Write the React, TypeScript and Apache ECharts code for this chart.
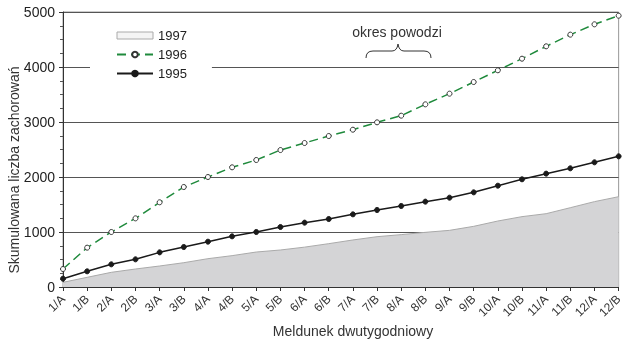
import React, { useEffect, useRef } from "react";
import * as echarts from "echarts";

// Biweekly report labels (month / half)
const categories = [
  "1/A", "1/B", "2/A", "2/B", "3/A", "3/B", "4/A", "4/B", "5/A", "5/B", "6/A", "6/B",
  "7/A", "7/B", "8/A", "8/B", "9/A", "9/B", "10/A", "10/B", "11/A", "11/B", "12/A", "12/B",
];

// Cumulative case counts per year
const cases1997 = [
  85, 176, 267, 327, 382, 442, 515, 570, 636, 673, 725, 788,
  855, 915, 952, 994, 1030, 1103, 1200, 1279, 1333, 1442, 1552, 1642,
];
const cases1996 = [
  327, 715, 1000, 1248, 1540, 1818, 2000, 2176, 2309, 2490, 2618, 2745,
  2860, 2994, 3115, 3321, 3515, 3727, 3940, 4151, 4376, 4588, 4776, 4933,
];
const cases1995 = [
  151, 285, 412, 503, 630, 727, 824, 921, 1000, 1091, 1170, 1236,
  1321, 1400, 1473, 1552, 1624, 1721, 1842, 1958, 2061, 2158, 2267, 2376,
];

const yTicks = { min: 0, max: 5000, interval: 1000 };

const FONT = "Liberation Sans, Arial, sans-serif";

// Curly brace over the flood period
const braceD =
  "M366,58 Q366,51 373,51 L392,51 Q397,51 398,44 Q399,51 404,51 L424,51 Q431,51 431,58";
echarts.graphic.registerShape("brace", echarts.graphic.extendPath(braceD, {}));

export default function App() {
  const ref = useRef<HTMLDivElement>(null);

  useEffect(() => {
    if (!ref.current) return;
    const chart = echarts.init(ref.current, null, { renderer: "svg" });
    chart.setOption({
      animation: false,
      textStyle: { fontFamily: FONT },
      grid: {
        left: 63,
        right: 3,
        top: 12,
        bottom: 53,
        show: true,
        borderColor: "#999",
        borderWidth: 1,
        backgroundColor: "transparent",
      },
      legend: {
        orient: "vertical",
        left: 90,
        top: 26,
        padding: [3, 25, 3, 26],
        backgroundColor: "#fff",
        itemWidth: 36,
        itemHeight: 7,
        itemGap: 6,
        textStyle: { fontSize: 13, color: "#222", fontFamily: FONT },
        data: [
          {
            name: "1997",
            icon: "rect",
            itemStyle: { color: "#f4f4f4", borderColor: "#aaa", borderWidth: 1 },
          },
          { name: "1996" },
          { name: "1995" },
        ],
      },
      xAxis: {
        type: "category",
        data: categories,
        boundaryGap: false,
        axisLine: { lineStyle: { color: "#333", width: 1 } },
        axisTick: { show: true, length: 4, lineStyle: { color: "#333" } },
        axisLabel: {
          rotate: 45,
          fontSize: 12,
          color: "#333",
          margin: 10,
          interval: 0,
          fontFamily: FONT,
        },
        splitLine: { show: false },
      },
      yAxis: {
        type: "value",
        min: yTicks.min,
        max: yTicks.max,
        interval: yTicks.interval,
        axisLine: { show: true, lineStyle: { color: "#333", width: 1 } },
        axisTick: { show: true, length: 4, lineStyle: { color: "#333" } },
        minorTick: { show: true, splitNumber: 4, length: 3, lineStyle: { color: "#555" } },
        axisLabel: {
          fontSize: 14,
          color: "#222",
          margin: 8,
          fontFamily: FONT,
          formatter: (v: number) => String(v),
        },
        splitLine: { show: true, lineStyle: { color: "#555", width: 1 } },
      },
      series: [
        {
          name: "1997",
          type: "line",
          data: cases1997,
          symbol: "none",
          lineStyle: { color: "#aaa", width: 1 },
          itemStyle: { color: "#f4f4f4", borderColor: "#aaa", borderWidth: 1 },
          areaStyle: { color: "#d4d4d6", opacity: 1 },
          z: 1,
        },
        {
          name: "1996",
          type: "line",
          data: cases1996,
          symbol: "circle",
          symbolSize: 5,
          lineStyle: { color: "#1f8a3c", width: 1.5, type: [9, 5] },
          itemStyle: { color: "#fff", borderColor: "#333", borderWidth: 1 },
          z: 3,
        },
        {
          name: "1995",
          type: "line",
          data: cases1995,
          symbol: "circle",
          symbolSize: 5,
          lineStyle: { color: "#1a1a1a", width: 1.5 },
          itemStyle: { color: "#1a1a1a", borderColor: "#1a1a1a", borderWidth: 1 },
          z: 3,
        },
      ],
      graphic: [
        {
          type: "text",
          x: 14,
          y: 170,
          rotation: Math.PI / 2,
          style: {
            text: "Skumulowana liczba zachorowań",
            fontSize: 14,
            fill: "#333",
            fontFamily: FONT,
            align: "center",
            verticalAlign: "middle",
          },
        },
        {
          type: "text",
          x: 353,
          y: 331,
          style: {
            text: "Meldunek dwutygodniowy",
            fontSize: 14,
            fill: "#333",
            fontFamily: FONT,
            align: "center",
            verticalAlign: "middle",
          },
        },
        {
          type: "text",
          x: 397,
          y: 32,
          style: {
            text: "okres powodzi",
            fontSize: 14,
            fill: "#333",
            fontFamily: FONT,
            align: "center",
            verticalAlign: "middle",
          },
        },
        {
          type: "brace",
          x: 0,
          y: 0,
          style: { fill: "none", stroke: "#333", lineWidth: 1 },
        },
      ],
    });
    return () => chart.dispose();
  }, []);

  return (
    <div
      ref={ref}
      style={{ position: "fixed", left: 0, top: 0, width: 625, height: 340 }}
    />
  );
}
